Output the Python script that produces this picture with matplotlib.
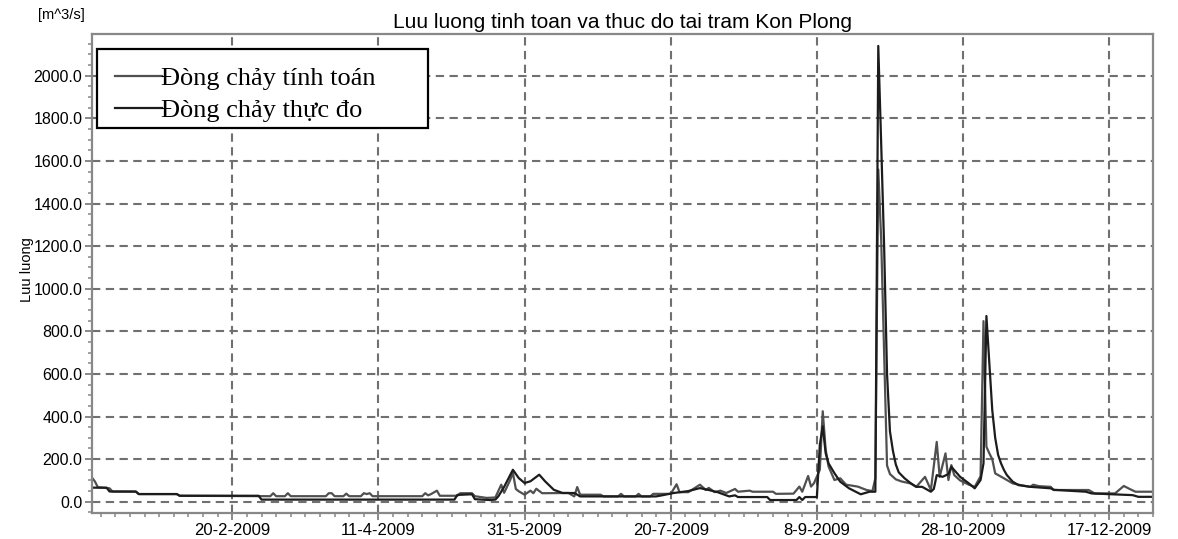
import numpy as np
import pandas as pd
from matplotlib import pyplot as plt
from matplotlib.patches import Rectangle
from matplotlib.ticker import FixedLocator, FormatStrFormatter, MultipleLocator
import matplotlib.dates as mdates

# day of year 2009 (1 = 1 Jan) and discharge [m^3/s]
sim_day = [3, 4, 5, 9, 10, 18, 19, 32, 33, 64, 65, 66, 69, 70, 71, 83, 84, 85, 86, 89, 90, 91,
           95, 96, 97, 98, 99, 116, 117, 118, 119, 121, 122, 128, 129, 133, 134, 138, 141, 143,
           144, 146, 147, 148, 149, 151, 153, 154, 155, 157, 166, 168, 169, 170, 177, 178, 183,
           184, 185, 189, 190, 191, 194, 195, 201, 203, 204, 207, 211, 213, 214, 216, 218, 220,
           223, 224, 228, 229, 236, 237, 243, 245, 246, 248, 249, 250, 252, 253, 254, 255, 257,
           259, 261, 265, 268, 270, 271, 272, 273, 274, 275, 276, 278, 280, 283, 285, 288, 290,
           292, 293, 295, 296, 297, 298, 300, 303, 305, 307, 308, 309, 310, 311, 312, 315, 318,
           320, 324, 325, 327, 331, 332, 344, 346, 353, 356, 358, 360, 366]
sim_q = [113, 95, 68, 63, 48, 47, 36, 36, 28, 26, 40, 26, 26, 40, 26, 26, 40, 40, 26, 26, 38, 26,
         26, 40, 36, 40, 26, 26, 40, 30, 36, 52, 28, 28, 40, 40, 26, 18, 20, 80,
         42, 100, 136, 60, 49, 33, 52, 40, 61, 40, 41, 25, 69, 33, 33, 25, 25,
         37, 25, 25, 37, 25, 25, 37, 37, 82, 45, 45, 80, 55, 65, 45, 52, 41,
         60, 47, 52, 47, 47, 37, 38, 71, 47, 121, 71, 87, 150, 425, 245, 165, 102,
         110, 80, 71, 55, 50, 110, 1560, 1230, 700, 170, 130, 105, 95, 86, 70, 117, 55,
         281, 117, 227, 102, 172, 125, 100, 80, 70, 120, 848, 258, 227, 200, 133, 110, 86,
         80, 70, 80, 73, 70, 55, 55, 39, 39, 74, 60, 47, 47]

obs_day = [3, 8, 9, 18, 19, 32, 33, 60, 61, 127, 128, 133, 134, 139, 141, 142, 144, 147, 149,
           151, 153, 156, 158, 161, 164, 168, 170, 196, 198, 202, 207, 211, 214, 217, 221, 223,
           224, 234, 235, 244, 245, 246, 247, 251, 252, 253, 254, 255, 257, 259, 262, 266, 269,
           271, 272, 273, 274, 275, 276, 277, 278, 279, 281, 283, 285, 287, 290, 291, 292, 294,
           296, 297, 300, 303, 305, 307, 308, 309, 310, 311, 312, 313, 314, 315, 316, 318, 320,
           324, 331, 332, 343, 345, 359, 361, 366]
obs_q = [66, 66, 48, 48, 36, 36, 28, 28, 10, 10, 32, 35, 12, 8, 10, 25, 70, 150, 111,
         88, 96, 127, 96, 56, 41, 41, 25, 25, 30, 41, 50, 64, 55, 45, 25, 30,
         22, 22, 8, 8, 22, 8, 22, 22, 267, 354, 228, 180, 134, 94, 63, 35, 47,
         47, 2140, 1680, 1200, 600, 330, 240, 175, 138, 110, 88, 70, 70, 47, 60, 125, 117,
         130, 164, 117, 86, 63, 102, 180, 872, 650, 430, 300, 220, 180, 149, 125, 94, 78,
         70, 63, 56, 47, 39, 31, 23, 23]

tick_dates = ['2009-02-20', '2009-04-11', '2009-05-31', '2009-07-20', '2009-09-08',
              '2009-10-28', '2009-12-17']
tick_labels = ['20-2-2009', '11-4-2009', '31-5-2009', '20-7-2009', '8-9-2009',
               '28-10-2009', '17-12-2009']

t0 = pd.Timestamp('2009-01-01')
sim_t = t0 + pd.to_timedelta(np.array(sim_day) - 1, unit='D')
obs_t = t0 + pd.to_timedelta(np.array(obs_day) - 1, unit='D')

fig = plt.figure(figsize=(11.78, 5.39), dpi=100)
ax = fig.add_axes([0.0781, 0.0482, 0.9007, 0.8887])

l1, = ax.plot(sim_t, sim_q, color='#505050', linewidth=1.6)
l2, = ax.plot(obs_t, obs_q, color='#1c1c1c', linewidth=1.6)

ax.set_xlim(sim_t[0], sim_t[-1])
ax.set_ylim(-53, 2196)

# ticks
ax.yaxis.set_major_locator(MultipleLocator(200))
ax.yaxis.set_minor_locator(MultipleLocator(50))
ax.yaxis.set_major_formatter(FormatStrFormatter('%.1f'))
major_x = mdates.date2num(pd.to_datetime(tick_dates))
ax.xaxis.set_major_locator(FixedLocator(major_x))
ax.set_xticklabels(tick_labels)
ax.xaxis.set_minor_locator(FixedLocator(np.arange(major_x[0] - 50, major_x[-1] + 20, 5)))
ax.tick_params(which='major', length=5, width=1.3, color='#808080', labelsize=12, pad=2)
ax.tick_params(axis='y', which='major', labelsize=11.5)
ax.tick_params(which='minor', length=3, width=1.2, color='#909090')
ax.tick_params(axis='x', which='major', pad=2.5)

ax.grid(True, which='major', color='#707070', linewidth=1.5, dashes=(4, 2.6))
ax.set_axisbelow(True)
for s in ax.spines.values():
    s.set_color('#888888')
    s.set_linewidth(1.6)

ax.set_title('Luu luong tinh toan va thuc do tai tram Kon Plong', fontsize=15, pad=4,
             family='Liberation Sans')
fig.text(0.0225, 0.499, 'Luu luong', rotation=90, ha='center', va='center', fontsize=10.5,
         family='Liberation Sans')
fig.text(0.052, 0.972, '[m^3/s]', ha='center', va='center', fontsize=10.5,
         family='Liberation Sans')
for lab in ax.get_xticklabels() + ax.get_yticklabels():
    lab.set_family('Liberation Sans')

# legend: frame drawn separately so the box matches the original
ax.add_patch(Rectangle((0.0047, 0.8038), 0.312, 0.165, transform=ax.transAxes,
                       facecolor='white', edgecolor='black', linewidth=1.6, zorder=4))
leg = ax.legend([l1, l2], ['Đòng chảy tính toán', 'Đòng chảy thực đo'],
                loc='upper left', bbox_to_anchor=(0.0217, 0.932), borderaxespad=0,
                borderpad=0, frameon=False, handlelength=1.78, handletextpad=-0.03,
                labelspacing=0.32,
                prop={'family': ['Liberation Serif', 'DejaVu Serif'], 'size': 19})
leg.set_zorder(5)

fig.savefig('out.png', dpi=100)
